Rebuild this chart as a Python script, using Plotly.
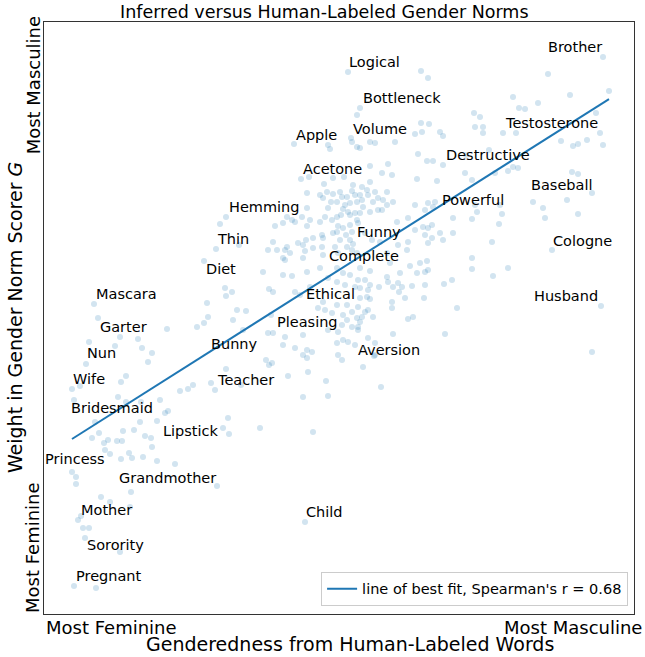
import plotly.graph_objects as go

# Scatter points (genderedness score, weight), grouped by region
feminine_side = [
    (123,285),(153,287),(160,291),(189,294),(199,284),(45,272),(71,268),(76,277),(94,275),(98,266),
    (108,261),(42,250),(104,252),(82,238),(77,232),(28,225),(36,228),(30,214),(74,217),(82,212),
    (97,212),(116,214),(124,203),(121,201),(136,223),(144,225),(149,229),(167,231),(171,224),(182,245),
    (197,229),(224,281),(222,254),(225,249),(244,238),(96,192),(113,193),(51,192),(55,181),(48,176),
    (60,171),(64,174),(73,173),(78,173),(79,183),(90,184),(101,178),(107,176),(108,167),(179,186),
    (185,180),(184,196),(216,186),(61,164),(66,160),(77,155),(85,161),(88,156),(99,157),(113,153),
    (131,150),(28,142),(32,137),(32,130),(87,122),(57,117),(66,112),(86,107),(173,128),(37,98),
    (34,94),(39,86),(45,86),(41,76),(76,62),(30,28),(52,26),
    (182,397),(176,390),(224,364),(172,365),(160,353),(195,369),(219,342),(225,325),(181,326),(188,322),
    (182,318),(50,310),(163,311),(54,296),(164,297),(193,304),(202,303),(227,299),
]

center_upper = [
    (250,470),(284,469),(286,465),(308,472),(313,467),(257,435),(265,437),(289,436),(280,430),(309,429),
    (300,437),(263,421),(276,419),(283,422),(289,420),(296,422),(308,423),(311,419),(279,416),(298,417),
    (303,417),(306,411),(293,412),(287,412),(313,412),(301,409),(263,406),(284,406),(299,405),(304,402),
    (306,399),(311,401),(313,394),(297,399),(293,397),(288,394),(281,397),(276,392),(266,394),(251,392),
    (258,397),(243,397),(248,394),(239,391),(231,388),(263,388),(294,388),(299,386),(306,389),(314,391),
    (293,382),(308,382),(302,379),(289,381),(278,379),(279,376),(269,376),(262,374),(254,371),(243,367),
    (229,372),(233,364),(241,364),(259,369),(296,374),(306,374),(309,370),(303,367),(291,367),(278,367),
    (269,366),(261,363),(294,361),(308,364),(313,361),(279,359),(246,361),(239,356),(259,356),
    (326,472),(331,471),(351,472),(374,460),(383,453),(389,453),(399,449),(326,448),(344,450),(338,441),
    (348,439),(373,435),(393,433),(318,427),(326,432),(323,424),(331,422),(343,422),(316,419),(324,419),
    (334,416),(318,414),(329,412),(339,414),(343,409),(334,404),(338,404),(326,402),(316,401),(319,407),
    (349,412),(371,409),(384,411),(391,412),(381,404),(389,407),(353,392),(364,396),(388,389),(379,387),
    (384,386),(371,384),(381,379),(388,376),(396,381),(364,372),(354,369),(336,372),(328,374),(321,381),
]

center_lower = [
    (241,354),(248,338),(239,339),(263,342),(276,346),(293,346),(299,341),(306,339),(284,336),(293,332),
    (301,329),(311,327),(266,327),(251,322),(256,319),(229,322),(279,312),(274,306),(281,304),(293,309),
    (303,309),(308,302),(299,299),(288,301),(303,294),(313,296),(298,289),(308,287),(314,284),(294,282),
    (284,284),(259,279),(241,277),(229,281),(239,269),(251,266),(263,264),(268,262),(259,259),(263,256),
    (293,271),(299,274),(304,272),(311,269),(294,259),(298,254),(264,242),(228,251),
    (383,353),(376,351),(384,344),(381,342),(400,330),(381,329),(368,328),(354,331),(358,327),(349,327),
    (343,337),(344,332),(335,327),(361,316),(355,322),(348,312),(348,306),(380,316),(369,297),(364,295),
    (401,280),(349,280),(316,346),(326,343),(321,334),(314,334),(326,329),(316,326),(324,324),(323,317),
    (326,315),(316,316),(314,307),(324,304),(321,302),(329,297),(318,297),(316,292),(314,287),(324,276),
    (331,271),(319,247),(331,259),
    (557,308),(548,262),(413,306),(330,258),(337,227),(282,233),(284,218),(259,217),(269,182),(261,92),
]

masculine_side = [
    (559,557),(504,540),(377,543),(384,536),(304,542),(565,523),(526,519),(494,511),(469,517),(475,506),
    (481,505),(430,501),(436,497),(316,506),(313,499),(377,491),(385,490),(396,482),(399,478),(431,487),
    (439,487),(439,481),(459,481),(472,481),(371,480),(378,482),(307,476),(316,466),(422,459),(445,464),
    (469,447),(529,468),(534,470),(559,469),(543,474),(528,442),(534,440),(421,441),(428,434),(451,441),
    (464,443),(474,446),(552,501),(556,481),(517,473),(409,381),(428,395),(409,396),(433,402),(456,409),
    (458,400),(431,409),(489,412),(499,406),(501,396),(523,414),(534,400),(448,372),(455,390),(428,356),
    (428,345),(449,338),(464,346),(408,334),(508,364),(548,421),(343,361),(346,351),(366,348),(373,341),
    (356,341),(363,364),(384,371),(399,374),
]

# Labeled words and their label anchor positions (same units)
words   = ["Logical","Brother","Bottleneck","Apple","Volume","Testosterone","Destructive","Acetone",
           "Baseball","Powerful","Hemming","Thin","Funny","Cologne","Diet","Complete","Mascara","Ethical",
           "Husband","Garter","Pleasing","Nun","Bunny","Aversion","Wife","Teacher","Bridesmaid","Lipstick",
           "Princess","Grandmother","Child","Mother","Sorority","Pregnant"]
word_x  = [305,504,319,252,309,461,402,259,487,398,185,173,313,509,162,285,52,262,
           490,56,233,43,167,314,29,173,27,119,1,75,262,37,43,32]
word_y  = [552,567,516,479,485,491,459,445,429,414,407,375,382,373,345,358,320,320,
           318,287,292,261,270,264,235,234,206,183,155,136,102,104,69,38]

# Line of best fit
fit_slope = 0.633
fit_intercept = 157.3
fit_x = [28, 565]
spearman_r = 0.68

all_points = feminine_side + center_upper + center_lower + masculine_side
xs = [p[0] for p in all_points]
ys = [p[1] for p in all_points]
fit_y = [fit_slope * v + fit_intercept for v in fit_x]

X_RANGE = [0, 590]
Y_RANGE = [0, 592]

fig = go.Figure()
fig.add_trace(go.Scatter(
    x=xs, y=ys, mode="markers",
    marker=dict(size=6, color="rgba(31,119,180,0.2)", line=dict(width=0)),
    showlegend=False, hoverinfo="skip"))
fig.add_trace(go.Scatter(
    x=fit_x, y=fit_y, mode="lines",
    line=dict(color="#1f77b4", width=2),
    name=f"line of best fit, Spearman's r = {spearman_r:.2f}"))

for w, lx, ly in zip(words, word_x, word_y):
    fig.add_annotation(x=lx, y=ly, text=w, xanchor="left", yanchor="middle",
                       showarrow=False, borderpad=0, xshift=-1,
                       font=dict(size=14.5, color="black"))

FONT = "DejaVu Sans"
paper_notes = [
    dict(text="Inferred versus Human-Labeled Gender Norms", x=0.476, y=1.017, size=17.5, angle=0, xa="center"),
    dict(text="Genderedness from Human-Labeled Words", x=0.519, y=-0.051, size=19, angle=0, xa="center"),
    dict(text="Weight in Gender Norm Scorer <i>G</i>", x=-0.049, y=0.5, size=19, angle=-90, xa="center"),
    dict(text="Most Feminine", x=0.0, y=-0.0236, size=18, angle=0, xa="left"),
    dict(text="Most Masculine", x=1.017, y=-0.0236, size=18, angle=0, xa="right"),
    dict(text="Most Masculine", x=-0.0186, y=0.893, size=18, angle=-90, xa="center"),
    dict(text="Most Feminine", x=-0.0186, y=0.1115, size=18, angle=-90, xa="center"),
]
for n in paper_notes:
    fig.add_annotation(xref="paper", yref="paper", x=n["x"], y=n["y"], text=n["text"],
                       xanchor=n["xa"], yanchor="middle", showarrow=False, textangle=n["angle"],
                       font=dict(size=n["size"], color="black", family=FONT))

axis_common = dict(showgrid=False, zeroline=False, showticklabels=False, ticks="",
                   showline=True, linecolor="#333333", linewidth=1, mirror=True)
fig.update_layout(
    width=645, height=657,
    margin=dict(l=44, r=11, t=22, b=43),
    plot_bgcolor="white", paper_bgcolor="white",
    font=dict(family=FONT, color="black"),
    xaxis=dict(range=X_RANGE, **axis_common),
    yaxis=dict(range=Y_RANGE, **axis_common),
    legend=dict(x=0.99, y=0.014, xanchor="right", yanchor="bottom",
                bordercolor="#cccccc", borderwidth=1, bgcolor="rgba(255,255,255,0.8)",
                font=dict(size=14.5, family=FONT, color="black")),
)

fig.write_html("out.html", config={"displayModeBar": False},
               post_script="document.body.style.margin='0';document.body.style.overflow='hidden';")
